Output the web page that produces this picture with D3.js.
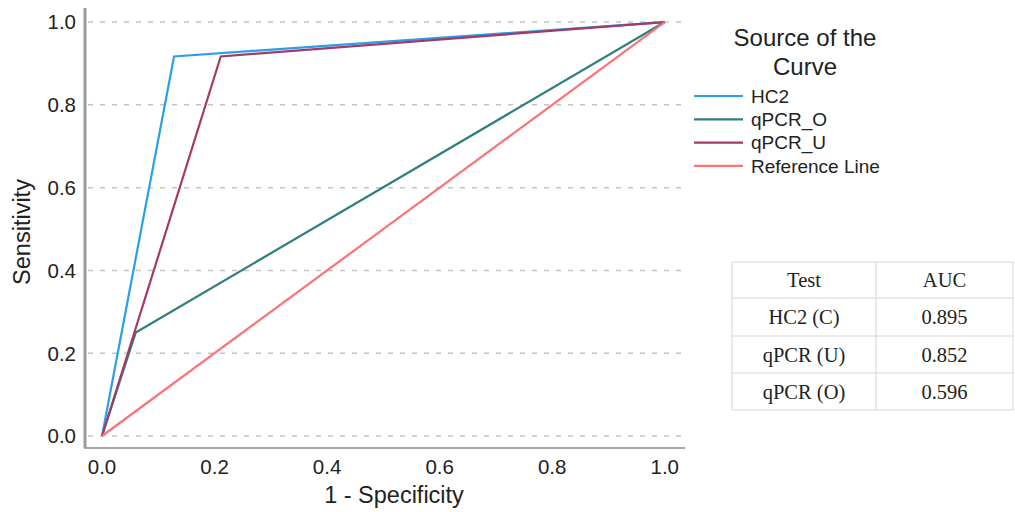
<!DOCTYPE html>
<html>
<head>
<meta charset="utf-8">
<script src="https://cdn.jsdelivr.net/npm/d3@7"></script>
<style>
  body { margin: 0; background: #fff; }
  svg { display: block; }
</style>
</head>
<body>
<div id="chart"></div>
<script>
// ROC curve data
const seriesNames = ["HC2", "qPCR_O", "qPCR_U", "Reference Line"];
const seriesColors = ["#2b9fe6", "#2f7f7b", "#a33a69", "#fa7378"];
const hc2Points = [[0, 0], [0.128, 0.917], [1, 1]];
const qpcrOPoints = [[0, 0], [0.060, 0.250], [1, 1]];
const qpcrUPoints = [[0, 0], [0.211, 0.917], [1, 1]];
const refPoints = [[0, 0], [1, 1]];
const yTicks = [0, 0.2, 0.4, 0.6, 0.8, 1.0];
const xTicks = [0, 0.2, 0.4, 0.6, 0.8, 1.0];

const tableHeader = ["Test", "AUC"];
const tableTests = ["HC2 (C)", "qPCR (U)", "qPCR (O)"];
const tableAuc = ["0.895", "0.852", "0.596"];

const width = 1015, height = 512;
const sans = "Arial, 'Liberation Sans', sans-serif";
const svg = d3.select("#chart").append("svg")
  .attr("width", width).attr("height", height);

const x = d3.scaleLinear().domain([-0.032, 1.036]).range([84, 685]);
const y = d3.scaleLinear().domain([-0.029, 1.034]).range([448, 8]);

// grid lines
svg.append("g")
  .selectAll("line")
  .data(yTicks)
  .join("line")
  .attr("x1", 88).attr("x2", 685)
  .attr("y1", d => y(d)).attr("y2", d => y(d))
  .attr("stroke", "#c4c4c4")
  .attr("stroke-width", 1.5)
  .attr("stroke-dasharray", "5,7");

// axes
svg.append("line")
  .attr("x1", 84).attr("x2", 685).attr("y1", 448).attr("y2", 448)
  .attr("stroke", "#8a8a8a").attr("stroke-width", 1.5);
svg.append("line")
  .attr("x1", 85).attr("x2", 85).attr("y1", 8).attr("y2", 448)
  .attr("stroke", "#9a9a9a").attr("stroke-width", 3);

svg.append("g")
  .selectAll("text")
  .data(yTicks)
  .join("text")
  .attr("x", 76).attr("y", d => y(d))
  .attr("dy", "0.36em")
  .attr("text-anchor", "end")
  .style("font-family", sans)
  .style("font-size", "20.5px")
  .attr("fill", "#222")
  .text(d => d.toFixed(1));

svg.append("g")
  .selectAll("text")
  .data(xTicks)
  .join("text")
  .attr("x", d => x(d)).attr("y", 474)
  .attr("text-anchor", "middle")
  .style("font-family", sans)
  .style("font-size", "20.5px")
  .attr("fill", "#222")
  .text(d => d.toFixed(1));

svg.append("text")
  .attr("x", 394).attr("y", 503)
  .attr("text-anchor", "middle")
  .style("font-family", sans)
  .style("font-size", "23.5px")
  .attr("fill", "#222")
  .text("1 - Specificity");

svg.append("text")
  .attr("transform", "translate(30,232) rotate(-90)")
  .attr("text-anchor", "middle")
  .style("font-family", sans)
  .style("font-size", "23.5px")
  .attr("fill", "#222")
  .text("Sensitivity");

// curves
const line = d3.line().x(d => x(d[0])).y(d => y(d[1]));
const allSeries = [qpcrOPoints, hc2Points, qpcrUPoints, refPoints];
const allColors = [seriesColors[1], seriesColors[0], seriesColors[2], seriesColors[3]];
svg.append("g")
  .selectAll("path")
  .data(allSeries)
  .join("path")
  .attr("d", line)
  .attr("fill", "none")
  .attr("stroke", (d, i) => allColors[i])
  .attr("stroke-width", 2.2)
  .attr("stroke-linejoin", "miter");

// legend
const legend = svg.append("g");
legend.selectAll("text.title")
  .data(["Source of the", "Curve"])
  .join("text")
  .attr("class", "title")
  .attr("x", 805).attr("y", (d, i) => 46 + i * 29)
  .attr("text-anchor", "middle")
  .style("font-family", sans)
  .style("font-size", "24px")
  .attr("fill", "#222")
  .text(d => d);

const items = legend.selectAll("g.item")
  .data(seriesNames)
  .join("g")
  .attr("class", "item")
  .attr("transform", (d, i) => `translate(0,${96 + i * 23.3})`);
items.append("line")
  .attr("x1", 694).attr("x2", 743)
  .attr("stroke", (d, i) => seriesColors[i])
  .attr("stroke-width", 2.2);
items.append("text")
  .attr("x", 751).attr("dy", "0.36em")
  .style("font-family", sans)
  .style("font-size", "19px")
  .attr("fill", "#222")
  .text(d => d);

// AUC table
const rows = [tableHeader].concat(tableTests.map((t, i) => [t, tableAuc[i]]));
const rowY = [262, 298, 336, 373, 410];
const colX = [732, 876, 1013];
const table = svg.append("g");
table.selectAll("line.h")
  .data(rowY)
  .join("line")
  .attr("class", "h")
  .attr("x1", colX[0]).attr("x2", colX[2])
  .attr("y1", d => d).attr("y2", d => d)
  .attr("stroke", "#d6d6d6").attr("stroke-width", 1);
table.selectAll("line.v")
  .data(colX)
  .join("line")
  .attr("class", "v")
  .attr("x1", d => d).attr("x2", d => d)
  .attr("y1", rowY[0]).attr("y2", rowY[4])
  .attr("stroke", "#d6d6d6").attr("stroke-width", 1);
rows.forEach((r, ri) => {
  r.forEach((cell, ci) => {
    table.append("text")
      .attr("x", (colX[ci] + colX[ci + 1]) / 2)
      .attr("y", (rowY[ri] + rowY[ri + 1]) / 2)
      .attr("dy", "0.35em")
      .attr("text-anchor", "middle")
      .style("font-family", "'Liberation Serif', 'Times New Roman', serif")
      .style("font-size", "20.5px")
      .attr("fill", "#222")
      .text(cell);
  });
});
</script>
</body>
</html>
